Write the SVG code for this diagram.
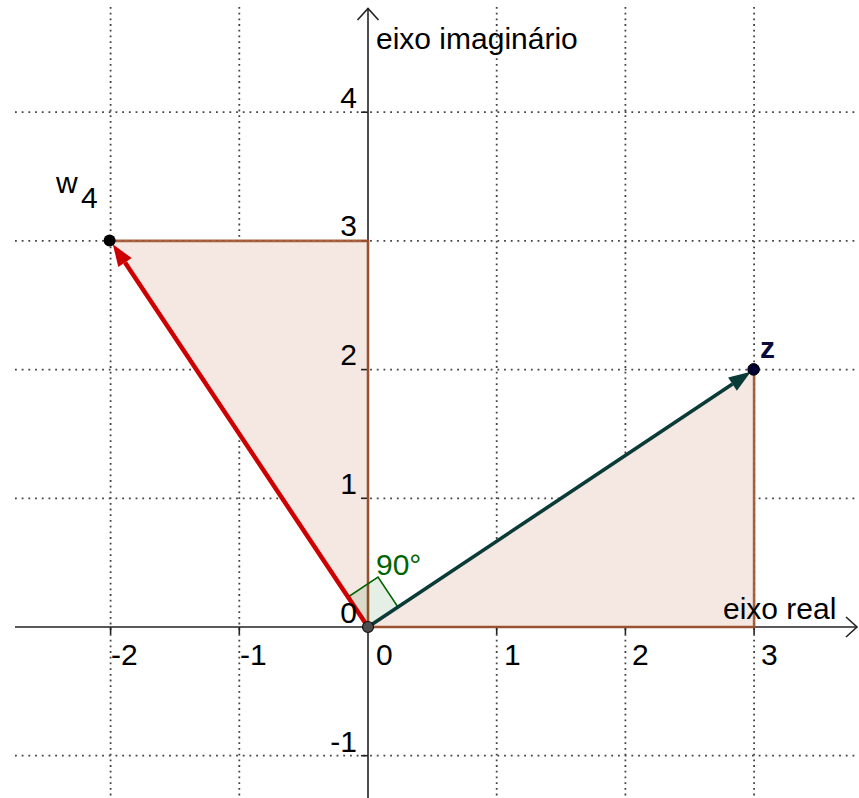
<svg xmlns="http://www.w3.org/2000/svg" width="859" height="798" viewBox="0 0 859 798">
<style>
.gh{stroke:#444;stroke-width:1.8;stroke-dasharray:1.8 4.9;fill:none}
.gv{stroke:#444;stroke-width:1.8;stroke-dasharray:1.8 3.9;fill:none}
.ax{stroke:#222;stroke-width:1.6;fill:none}
.tk{stroke:#222;stroke-width:1.6}
.edge{stroke:#a0522d;stroke-width:2.6;fill:none;stroke-opacity:0.9}
.fill{fill:#f5e7e2;stroke:none}
.lbl{font-family:"Liberation Sans",Arial,sans-serif;font-size:30px;fill:#000}
</style>
<rect width="859" height="798" fill="#fff"/>
<g id="grid">
<line class="gh" x1="15" y1="112.2" x2="859" y2="112.2"/>
<line class="gh" x1="15" y1="240.9" x2="859" y2="240.9"/>
<line class="gh" x1="15" y1="369.6" x2="859" y2="369.6"/>
<line class="gh" x1="15" y1="498.3" x2="859" y2="498.3"/>
<line class="gh" x1="15" y1="755.7" x2="859" y2="755.7"/>
<line class="gv" x1="110.6" y1="7" x2="110.6" y2="798"/>
<line class="gv" x1="239.3" y1="7" x2="239.3" y2="798"/>
<line class="gv" x1="496.7" y1="7" x2="496.7" y2="798"/>
<line class="gv" x1="625.4" y1="7" x2="625.4" y2="798"/>
<line class="gv" x1="754.1" y1="7" x2="754.1" y2="798"/>
</g>
<g id="triangle-w4">
<polygon class="fill" points="368,627 110.6,240.9 368,240.9"/>
</g>
<g id="triangle-z">
<polygon class="fill" points="368,627 754.1,627 754.1,369.6"/>
</g>
<g id="axes">
<line class="ax" x1="15" y1="627" x2="857" y2="627"/>
<polyline class="ax" points="846,617 857,627 846,637"/>
<line class="ax" x1="368" y1="798" x2="368" y2="8"/>
<polyline class="ax" points="357.5,20 368,8.5 378.5,20"/>
<line class="tk" x1="110.6" y1="627" x2="110.6" y2="634"/>
<line class="tk" x1="239.3" y1="627" x2="239.3" y2="634"/>
<line class="tk" x1="496.7" y1="627" x2="496.7" y2="634"/>
<line class="tk" x1="625.4" y1="627" x2="625.4" y2="634"/>
<line class="tk" x1="754.1" y1="627" x2="754.1" y2="634"/>
<line class="tk" x1="361" y1="112.2" x2="368" y2="112.2"/>
<line class="tk" x1="361" y1="240.9" x2="368" y2="240.9"/>
<line class="tk" x1="361" y1="369.6" x2="368" y2="369.6"/>
<line class="tk" x1="361" y1="498.3" x2="368" y2="498.3"/>
<line class="tk" x1="361" y1="755.7" x2="368" y2="755.7"/>
</g>
<g id="edges">
<polyline class="edge" points="110.6,240.9 368,240.9 368,627"/>
<polyline class="edge" points="368,627 754.1,627 754.1,369.6"/>
</g>
<g id="right-angle">
<polygon points="368,627 397.96,607.03 378,577.07 348.03,597.04" fill="#006400" fill-opacity="0.1" stroke="#006400" stroke-width="1.6"/>
</g>
<g id="connectors">
<line x1="368" y1="627" x2="125" y2="262.5" stroke="#cc0000" stroke-width="4.5"/>
<polygon points="112.8,244.2 131.7,258.1 118.3,266.9" fill="#cc0000"/>
<line x1="368" y1="627" x2="732.5" y2="384" stroke="#0b3b36" stroke-width="3.6"/>
<polygon points="750.8,371.8 736.9,390.7 728.1,377.4" fill="#0b3b36"/>
</g>
<g id="point-O">
<circle cx="368" cy="627" r="5.5" fill="#4d4d4d" stroke="#111" stroke-width="1.2"/>
</g>
<g id="point-w4">
<circle cx="109.6" cy="240.4" r="6" fill="#000"/>
<text class="lbl" x="56" y="193">w</text>
<text class="lbl" x="81" y="208">4</text>
</g>
<g id="point-z">
<circle cx="753.6" cy="369.4" r="5.8" fill="#000033" stroke="#000" stroke-width="1"/>
<text class="lbl" x="760" y="358" style="fill:#0a0a3c;font-weight:bold">z</text>
</g>
<g id="labels">
<text class="lbl" x="376" y="49">eixo imaginário</text>
<text class="lbl" x="723" y="619">eixo real</text>
<text class="lbl" x="376" y="575" style="fill:#006400">90°</text>
<g text-anchor="end">
<text class="lbl" x="357" y="108">4</text>
<text class="lbl" x="357" y="236">3</text>
<text class="lbl" x="357" y="365">2</text>
<text class="lbl" x="357" y="494">1</text>
<text class="lbl" x="357" y="623">0</text>
<text class="lbl" x="357" y="752">-1</text>
</g>
<text class="lbl" x="111" y="665">-2</text>
<text class="lbl" x="240" y="665">-1</text>
<text class="lbl" x="376" y="665">0</text>
<text class="lbl" x="504" y="665">1</text>
<text class="lbl" x="632" y="665">2</text>
<text class="lbl" x="761" y="665">3</text>
</g>
</svg>
